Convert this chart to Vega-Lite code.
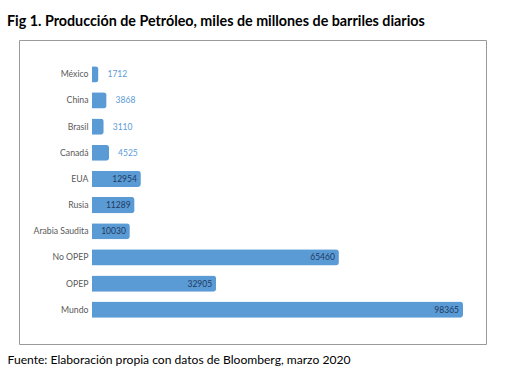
{
  "$schema": "https://vega.github.io/schema/vega-lite/v6.json",
  "width": 467,
  "height": 304,
  "autosize": {"type": "none"},
  "padding": {"left": 19, "top": 40, "right": 20, "bottom": 26},
  "background": "white",
  "title": {
    "text": "Fig 1. Producción de Petróleo, miles de millones de barriles diarios",
    "anchor": "start",
    "frame": "group",
    "dx": -12,
    "offset": 11,
    "font": "Lato",
    "fontSize": 14.3,
    "fontWeight": "bold",
    "color": "#000000"
  },
  "config": {
    "view": {"stroke": "#9a9a9a", "strokeWidth": 1},
    "font": "Lato"
  },
  "data": {
    "values": [
      {"pais": "México", "v": 1712},
      {"pais": "China", "v": 3868},
      {"pais": "Brasil", "v": 3110},
      {"pais": "Canadá", "v": 4525},
      {"pais": "EUA", "v": 12954},
      {"pais": "Rusia", "v": 11289},
      {"pais": "Arabia Saudita", "v": 10030},
      {"pais": "No OPEP", "v": 65460},
      {"pais": "OPEP", "v": 32905},
      {"pais": "Mundo", "v": 98365}
    ]
  },
  "encoding": {
    "y": {
      "field": "pais",
      "type": "nominal",
      "sort": null,
      "scale": {"paddingInner": 0.38, "paddingOuter": 1.05},
      "axis": {
        "title": null,
        "offset": -73,
        "ticks": false,
        "domain": false,
        "labelPadding": 4,
        "labelFont": "Lato",
        "labelFontSize": 8.7,
        "labelColor": "#595959"
      }
    },
    "x": {
      "field": "v",
      "type": "quantitative",
      "scale": {"domain": [0, 98365], "range": [73, 444], "nice": false, "zero": true},
      "axis": {
        "labels": false,
        "ticks": false,
        "domain": false,
        "grid": false,
        "title": "Fuente: Elaboración propia con datos de Bloomberg, marzo 2020",
        "titleAnchor": "start",
        "titleAlign": "left",
        "titleX": -12,
        "titleY": 19,
        "titleBaseline": "alphabetic",
        "titleFont": "Lato",
        "titleFontSize": 12.1,
        "titleFontWeight": "normal",
        "titleColor": "#000000"
      }
    }
  },
  "layer": [
    {
      "mark": {"type": "bar", "color": "#5b9bd5", "cornerRadiusEnd": 3}
    },
    {
      "transform": [{"filter": "datum.v > 8000"}],
      "mark": {"type": "text", "align": "right", "dx": -4, "fontSize": 8.5, "color": "#1f3a5f", "font": "Lato"},
      "encoding": {"text": {"field": "v", "type": "quantitative", "format": "d"}}
    },
    {
      "transform": [{"filter": "datum.v <= 8000"}],
      "mark": {"type": "text", "align": "left", "dx": 9, "fontSize": 8.5, "color": "#5b9bd5", "font": "Lato"},
      "encoding": {"text": {"field": "v", "type": "quantitative", "format": "d"}}
    }
  ]
}
